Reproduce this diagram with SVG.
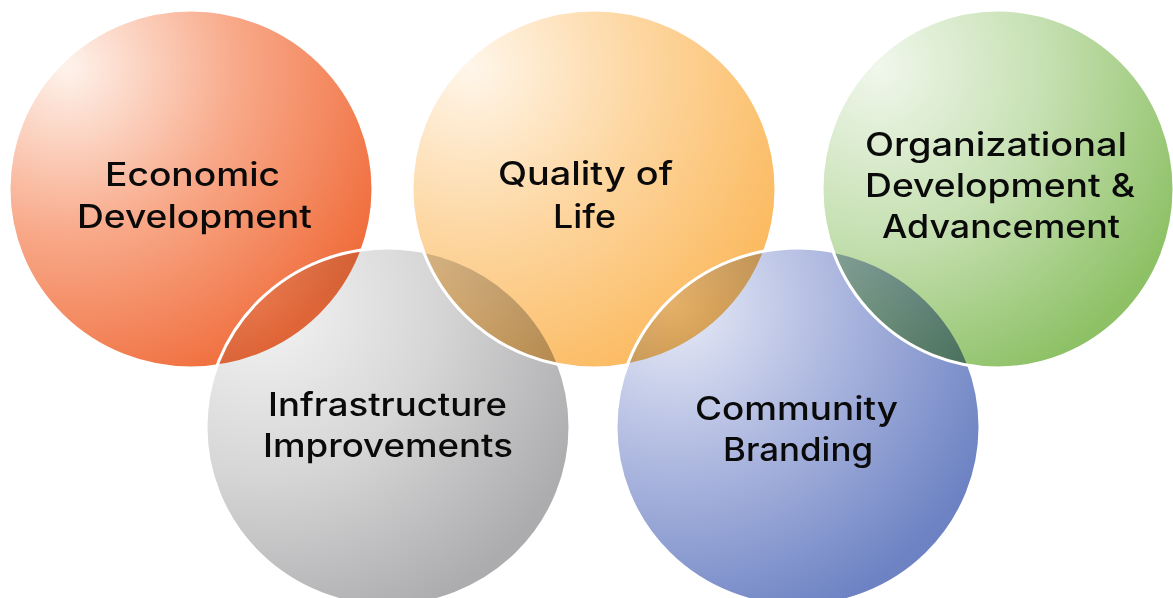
<svg xmlns="http://www.w3.org/2000/svg" width="1173" height="598" viewBox="0 0 1173 598">
  <defs>
    <radialGradient id="gEco" cx="0.16" cy="0.16" fx="0.16" fy="0.16" r="0.95">
      <stop offset="0" stop-color="#fef3ec"/>
      <stop offset="0.5" stop-color="#f8a888"/>
      <stop offset="1" stop-color="#f06d3c"/>
    </radialGradient>
    <radialGradient id="gQol" cx="0.16" cy="0.16" fx="0.16" fy="0.16" r="0.95">
      <stop offset="0" stop-color="#fff6ea"/>
      <stop offset="0.5" stop-color="#fdd6a0"/>
      <stop offset="1" stop-color="#fbba60"/>
    </radialGradient>
    <radialGradient id="gOrg" cx="0.16" cy="0.16" fx="0.16" fy="0.16" r="0.95">
      <stop offset="0" stop-color="#f0f7ec"/>
      <stop offset="0.5" stop-color="#c6e0b2"/>
      <stop offset="1" stop-color="#8ec166"/>
    </radialGradient>
    <radialGradient id="gInf" cx="0.16" cy="0.16" fx="0.16" fy="0.16" r="0.95">
      <stop offset="0" stop-color="#f4f4f4"/>
      <stop offset="0.5" stop-color="#d6d6d7"/>
      <stop offset="1" stop-color="#acacae"/>
    </radialGradient>
    <radialGradient id="gCom" cx="0.16" cy="0.16" fx="0.16" fy="0.16" r="0.95">
      <stop offset="0" stop-color="#e8ebf7"/>
      <stop offset="0.5" stop-color="#aab5de"/>
      <stop offset="1" stop-color="#6c82c3"/>
    </radialGradient>
  </defs>
  <style>
    .disc { mix-blend-mode: multiply; }
    .rim { fill: none; stroke: #ffffff; stroke-width: 3; }
    .label { font-family: "Inter", "Liberation Sans", sans-serif; font-weight: 500; font-size: 32px; fill: #0a0a0a; text-anchor: middle; }
  </style>

  <rect x="0" y="0" width="1173" height="598" fill="#ffffff"/>

  <g id="economic-development">
    <ellipse class="disc" cx="191" cy="189" rx="182" ry="179" fill="url(#gEco)"/>
    <ellipse class="rim" cx="191" cy="189" rx="182" ry="179"/>
    <text class="label" x="192.5" y="186" textLength="175" lengthAdjust="spacingAndGlyphs">Economic</text>
    <text class="label" x="194.5" y="228" textLength="235" lengthAdjust="spacingAndGlyphs">Development</text>
  </g>

  <g id="infrastructure-improvements">
    <ellipse class="disc" cx="388" cy="427" rx="182" ry="179" fill="url(#gInf)"/>
    <ellipse class="rim" cx="388" cy="427" rx="182" ry="179"/>
    <text class="label" x="387.5" y="416" textLength="239" lengthAdjust="spacingAndGlyphs">Infrastructure</text>
    <text class="label" x="388" y="457" textLength="250" lengthAdjust="spacingAndGlyphs">Improvements</text>
  </g>

  <g id="quality-of-life">
    <ellipse class="disc" cx="594" cy="189" rx="182" ry="179" fill="url(#gQol)"/>
    <ellipse class="rim" cx="594" cy="189" rx="182" ry="179"/>
    <text class="label" x="585.5" y="185" textLength="175" lengthAdjust="spacingAndGlyphs">Quality of</text>
    <text class="label" x="584.5" y="228" textLength="63" lengthAdjust="spacingAndGlyphs">Life</text>
  </g>

  <g id="community-branding">
    <ellipse class="disc" cx="798" cy="427" rx="182" ry="179" fill="url(#gCom)"/>
    <ellipse class="rim" cx="798" cy="427" rx="182" ry="179"/>
    <text class="label" x="796.5" y="420" textLength="203" lengthAdjust="spacingAndGlyphs">Community</text>
    <text class="label" x="798" y="461" textLength="150" lengthAdjust="spacingAndGlyphs">Branding</text>
  </g>

  <g id="organizational-development">
    <ellipse class="disc" cx="998" cy="189" rx="176" ry="179" fill="url(#gOrg)"/>
    <ellipse class="rim" cx="998" cy="189" rx="176" ry="179"/>
    <text class="label" x="996" y="156" textLength="262" lengthAdjust="spacingAndGlyphs">Organizational</text>
    <text class="label" x="1000" y="197" textLength="270" lengthAdjust="spacingAndGlyphs">Development &amp;</text>
    <text class="label" x="1001" y="238" textLength="238" lengthAdjust="spacingAndGlyphs">Advancement</text>
  </g>
</svg>
